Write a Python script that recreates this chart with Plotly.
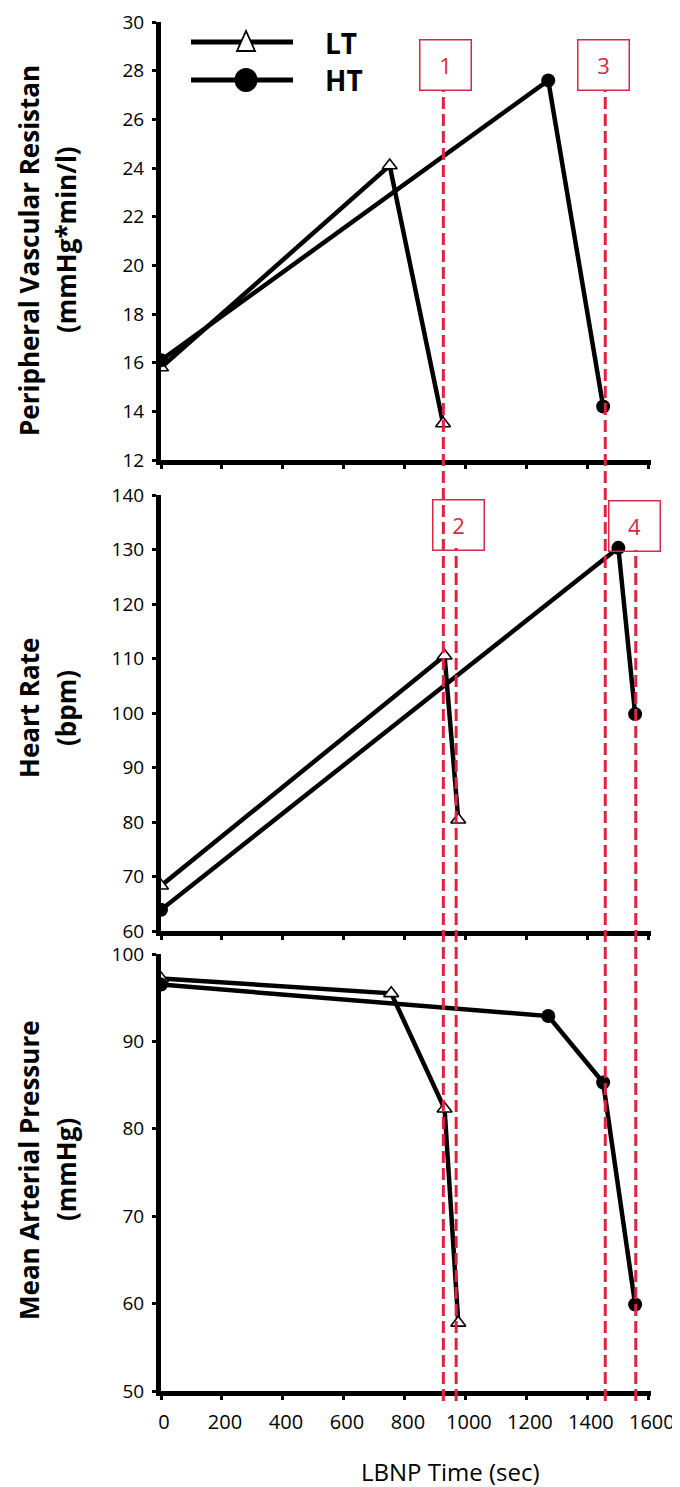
import plotly.graph_objects as go

# ---------------- data ----------------
# Peripheral vascular resistance (mmHg*min/l)
lt_time_pvr = [0, 750, 925]
lt_pvr = [15.8, 24.1, 13.5]
ht_time_pvr = [0, 1270, 1450]
ht_pvr = [16.1, 27.6, 14.2]

# Heart rate (bpm)
lt_time_hr = [0, 930, 975]
lt_hr = [68.3, 110.5, 80.4]
ht_time_hr = [0, 1500, 1555]
ht_hr = [63.9, 130.3, 99.8]

# Mean arterial pressure (mmHg)
lt_time_map = [0, 755, 930, 975]
lt_map = [97.2, 95.5, 82.3, 57.8]
ht_time_map = [0, 1270, 1450, 1555]
ht_map = [96.5, 92.9, 85.3, 59.9]

# event markers (red dashed lines) and their labels
event_times = [926, 968, 1457, 1557]
event_labels = ["1", "2", "3", "4"]

x_ticks = [0, 200, 400, 600, 800, 1000, 1200, 1400, 1600]
pvr_ticks = [12, 14, 16, 18, 20, 22, 24, 26, 28, 30]
hr_ticks = [60, 70, 80, 90, 100, 110, 120, 130, 140]
map_ticks = [50, 60, 70, 80, 90, 100]

# ---------------- layout helpers ----------------
W, H = 680, 1487
PL, PR, PT, PB = 153, 643, 14, 1383


def px(x):
    return (x - PL) / (PR - PL)


def py(y):
    return (PB - y) / (PB - PT)


FONT = "Open Sans"
RED = "#e0243e"
BOXRED = "#d42a46"

fig = go.Figure()

line_style = dict(color="black", width=4.5)
lt_marker = dict(symbol="triangle-up", size=13, color="white",
                 line=dict(color="black", width=1.6))
ht_marker = dict(symbol="circle", size=14, color="black",
                 line=dict(color="black", width=0))

panels = [
    ("x", "y", lt_time_pvr, lt_pvr, ht_time_pvr, ht_pvr),
    ("x2", "y2", lt_time_hr, lt_hr, ht_time_hr, ht_hr),
    ("x3", "y3", lt_time_map, lt_map, ht_time_map, ht_map),
]
for xa, ya, ltx, lty, htx, hty in panels:
    fig.add_trace(go.Scatter(x=ltx, y=lty, mode="lines+markers", name="LT",
                             line=line_style, marker=lt_marker,
                             xaxis=xa, yaxis=ya, showlegend=False))
    fig.add_trace(go.Scatter(x=htx, y=hty, mode="lines+markers", name="HT",
                             line=line_style, marker=ht_marker,
                             xaxis=xa, yaxis=ya, showlegend=False))

xrange = [0, 1607]
common_x = dict(range=xrange, showgrid=False, zeroline=False, showline=True,
                linecolor="black", linewidth=5, ticks="outside", ticklen=4,
                tickwidth=3, tickcolor="black", tickvals=x_ticks,
                automargin=False, fixedrange=True,
                ticklabeloverflow="allow")
common_y = dict(showgrid=False, zeroline=False, showline=True,
                linecolor="black", linewidth=5, ticks="outside", ticklen=4,
                tickwidth=3, tickcolor="black", automargin=False,
                tickfont=dict(family=FONT, size=19, color="black"),
                ticklabelstandoff=4, ticklabeloverflow="allow")

dom_top = [py(452), py(14)]
dom_mid = [py(923), py(487)]
dom_bot = [py(1383), py(946)]

fig.update_layout(
    width=W, height=H,
    template="none",
    paper_bgcolor="white", plot_bgcolor="white",
    margin=dict(l=PL, r=W - PR, t=PT, b=H - PB, pad=0),
    showlegend=False,
    xaxis=dict(**common_x, domain=[0, 1], anchor="y", showticklabels=False),
    xaxis2=dict(**common_x, domain=[0, 1], anchor="y2", showticklabels=False),
    xaxis3=dict(**common_x, domain=[0, 1], anchor="y3", showticklabels=True,
                ticktext=[str(v) for v in x_ticks],
                tickfont=dict(family=FONT, size=20, color="black"),
                ticklabelshift=3, ticklabelstandoff=5),
    yaxis=dict(**common_y, domain=dom_top, range=[12, 30], tickvals=pvr_ticks,
               anchor="x"),
    yaxis2=dict(**common_y, domain=dom_mid, range=[60, 140], tickvals=hr_ticks,
                anchor="x2"),
    yaxis3=dict(**common_y, domain=dom_bot, range=[50, 100], tickvals=map_ticks,
                anchor="x3"),
)

shapes = []
annotations = []

# red dashed event lines
line_tops = {"1": 83, "2": 540, "3": 83, "4": 542}
for t, lab in zip(event_times, event_labels):
    shapes.append(dict(type="line", xref="x3", yref="paper",
                       x0=t, x1=t, y0=py(1393), y1=py(line_tops[lab]),
                       line=dict(color=RED, width=3, dash="12px,5px"),
                       layer="above"))

# event label boxes
box_centers = {"1": (437.5, 57), "2": (450, 517), "3": (595.5, 57), "4": (626.5, 518)}
for lab in event_labels:
    cx, cy = box_centers[lab]
    annotations.append(dict(xref="paper", yref="paper", x=px(cx), y=py(cy),
                            xanchor="center", yanchor="middle", showarrow=False,
                            text=lab, width=50, height=49, borderpad=0,
                            bordercolor=BOXRED, borderwidth=1.5,
                            font=dict(family=FONT, size=22, color=BOXRED)))

# legend (drawn manually)
for yy in (34, 72):
    shapes.append(dict(type="line", xref="paper", yref="paper",
                       x0=px(183), x1=px(285), y0=py(yy), y1=py(yy),
                       line=dict(color="black", width=5), layer="above"))
shapes.append(dict(type="path", xref="paper", yref="paper",
                   xsizemode="pixel", ysizemode="pixel",
                   xanchor=px(238), yanchor=py(34),
                   path="M -9,-9 L 9,-9 L 0,11 Z",
                   fillcolor="white", line=dict(color="black", width=1.8),
                   layer="above"))
shapes.append(dict(type="circle", xref="paper", yref="paper",
                   xsizemode="pixel", ysizemode="pixel",
                   xanchor=px(238), yanchor=py(72),
                   x0=-11.5, x1=11.5, y0=-12, y1=12,
                   fillcolor="black", line=dict(color="black", width=0),
                   layer="above"))
for name, yy in (("LT", 35), ("HT", 72)):
    annotations.append(dict(xref="paper", yref="paper", x=px(315), y=py(yy),
                            xanchor="left", yanchor="middle", showarrow=False,
                            text="<b>%s</b>" % name,
                            font=dict(family=FONT, size=28, color="black")))

# y-axis titles (two lines each)
titles = [
    ("Peripheral Vascular Resistan", 243, "(mmHg*min/l)", 232),
    ("Heart Rate", 700, "(bpm)", 700),
    ("Mean Arterial Pressure", 1162, "(mmHg)", 1162),
]
for l1, y1, l2, y2 in titles:
    annotations.append(dict(xref="paper", yref="paper", x=px(21), y=py(y1),
                            xanchor="center", yanchor="middle", showarrow=False,
                            textangle=-90, text="<b>%s</b>" % l1,
                            font=dict(family=FONT, size=26, color="black")))
    annotations.append(dict(xref="paper", yref="paper", x=px(58), y=py(y2),
                            xanchor="center", yanchor="middle", showarrow=False,
                            textangle=-90, text="<b>%s</b>" % l2,
                            font=dict(family=FONT, size=26, color="black")))

# x-axis title
annotations.append(dict(xref="paper", yref="paper", x=px(442), y=py(1463),
                        xanchor="center", yanchor="middle", showarrow=False,
                        text="LBNP Time (sec)",
                        font=dict(family=FONT, size=24, color="black")))

fig.update_layout(shapes=shapes, annotations=annotations)

fig.write_html("out.html")
